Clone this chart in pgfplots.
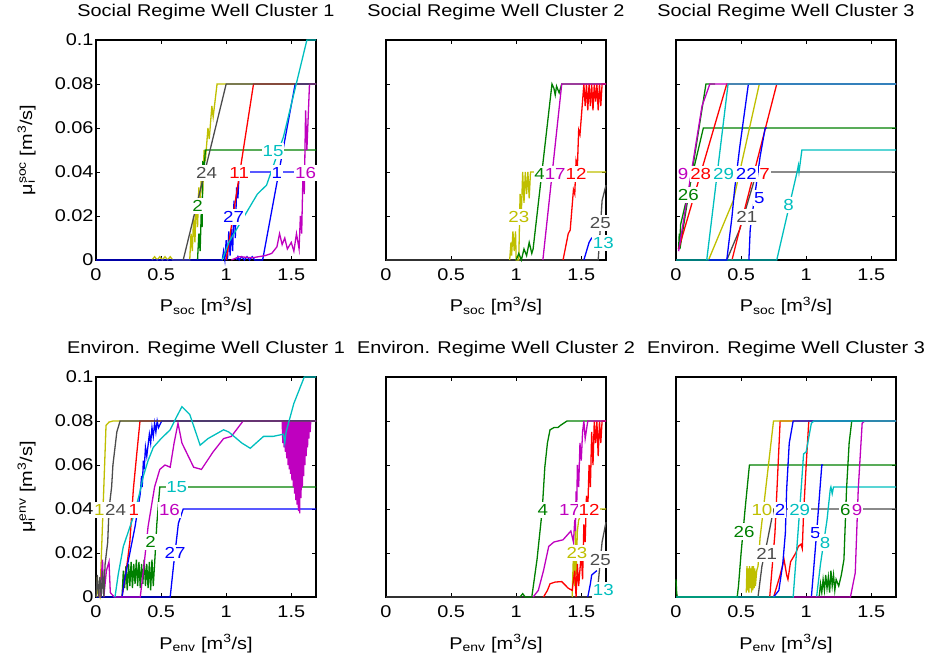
\documentclass[border=0pt]{standalone}
\usepackage{fontspec}
\setmainfont{Liberation Sans}[FakeStretch=1.17]
\usepackage{pgfplots}
\pgfplotsset{compat=1.18}
\definecolor{mb}{rgb}{0,0,1}
\definecolor{mg}{rgb}{0,0.5,0}
\definecolor{mr}{rgb}{1,0,0}
\definecolor{mc}{rgb}{0,0.75,0.75}
\definecolor{mm}{rgb}{0.75,0,0.75}
\definecolor{my}{rgb}{0.75,0.75,0}
\definecolor{mk}{rgb}{0.3,0.3,0.3}
\newcommand{\fs}{\fontsize{17}{20}\selectfont}
\tikzset{lab/.style={fill=white, inner xsep=0.8pt, inner ysep=2.5pt, font=\fontsize{16}{19}\selectfont}}
\pgfplotsset{
  panel/.style={
    scale only axis, width=220pt, height=220pt,
    anchor=south west,
    xmin=0, xmax=1.69, ymin=0, ymax=0.1,
    xtick={0,0.5,1,1.5}, xticklabels={0,0.5,1,1.5},
    ytick={0,0.02,0.04,0.06,0.08,0.1},
    yticklabels={},
    axis line style={line width=1.6pt},
    major tick length=4pt,
    tick style={line width=0.7pt, black},
    tick align=inside,
    clip=false,
    font=\fs,
    /pgf/number format/assume math mode=true,
    title style={at={(0.5,1)}, anchor=base, yshift=17pt, font=\fs},
    xlabel style={at={(0.5,0)}, anchor=base, yshift=-52pt, font=\fs},
    ylabel style={at={(axis description cs:-0.29,0.5)}, anchor=base, font=\fs},
    xticklabel style={yshift=-5pt},
    yticklabel style={xshift=1pt},
    every axis plot/.append style={line width=1.3pt, no markers},
  },
  first/.style={yticklabels={0,0.02,0.04,0.06,0.08,0.1}},
}
\begin{document}
\begin{tikzpicture}
%%%%%%%%%%%%%%%% Social cluster 1
\begin{axis}[panel, first, at={(96pt,404pt)},
  title={Social Regime Well Cluster 1},
  xlabel={P\textsubscript{soc} [m\textsuperscript{3}/s]},
  ylabel={μ\rlap{\textsubscript{i}}\textsuperscript{soc} [m\textsuperscript{3}/s]}]
\addplot[my] coordinates {(0.43,0)(0.45,0.0015)(0.47,0)(0.49,0.0015)(0.51,0)(0.53,0.0015)(0.55,0)(0.57,0.0015)(0.59,0)(0.72,0)(0.73,0.012)(0.74,0.004)(0.75,0.02)(0.76,0.008)(0.77,0.028)(0.78,0.015)(0.79,0.033)(0.8,0.025)(0.81,0.04)(0.82,0.03)(0.83,0.05)(0.84,0.045)(0.86,0.06)(0.87,0.055)(0.89,0.07)(0.9,0.065)(0.93,0.08)(1.69,0.08)};
\addplot[mg] coordinates {(0.78,0)(0.79,0.012)(0.8,0.004)(0.81,0.025)(0.815,0.015)(0.82,0.045)(0.83,0.04)(0.84,0.05)(1.69,0.05)};
\addplot[mb] coordinates {(0,0)(0.97,0)(0.98,0.004)(0.99,0)(1.0,0.009)(1.01,0)(1.02,0.013)(1.03,0.002)(1.04,0.014)(1.05,0.004)(1.06,0.027)(1.07,0.01)(1.08,0.033)(1.09,0.028)(1.1,0.04)(1.69,0.04)};
\addplot[mr] coordinates {(1.0,0)(1.21,0.08)(1.69,0.08)};
\addplot[mb] coordinates {(1.08,0)(1.09,0.0015)(1.1,0)(1.12,0.0015)(1.14,0)(1.16,0.0015)(1.18,0)(1.2,0.0015)(1.22,0)(1.28,0)(1.53,0.08)(1.69,0.08)};
\addplot[mm] coordinates {(1.04,0)(1.1,0.0015)(1.2,0.001)(1.3,0.002)(1.35,0.003)(1.39,0.006)(1.41,0.012)(1.43,0.007)(1.45,0.01)(1.47,0.005)(1.5,0.008)(1.52,0.004)(1.54,0.012)(1.56,0.005)(1.57,0.02)(1.58,0.012)(1.59,0.04)(1.6,0.03)(1.61,0.068)(1.62,0.05)(1.64,0.08)(1.69,0.08)};
\addplot[mk] coordinates {(0.67,0)(1.0,0.08)(1.69,0.08)};
\addplot[mc] coordinates {(0.97,0)(1.02,0.008)(1.08,0.014)(1.16,0.022)(1.24,0.03)(1.31,0.034)(1.44,0.056)(1.62,0.1)(1.69,0.1)};
\node[lab,text=mk] at (axis cs:0.85,0.0394) {24};
\node[lab,text=mr] at (axis cs:1.10,0.0394) {11};
\node[lab,text=mb] at (axis cs:1.39,0.0394) {1};
\node[lab,text=mm] at (axis cs:1.61,0.0394) {16};
\node[lab,text=mc] at (axis cs:1.36,0.0497) {15};
\node[lab,text=mg] at (axis cs:0.78,0.0245) {2};
\node[lab,text=mb] at (axis cs:1.057,0.0197) {27};
\end{axis}
%%%%%%%%%%%%%%%% Social cluster 2
\begin{axis}[panel, at={(386pt,404pt)},
  title={Social Regime Well Cluster 2},
  xlabel={P\textsubscript{soc} [m\textsuperscript{3}/s]}]
\addplot[mk] coordinates {(0,0)(1.63,0)(1.66,0.027)(1.69,0.034)};
\addplot[my] coordinates {(0.95,0)(0.96,0.008)(0.965,0.002)(0.975,0.013)(0.985,0.004)(0.995,0.013)(1.0,0)(1.02,0)(1.03,0.03)(1.04,0.022)(1.05,0.04)(1.06,0.026)(1.07,0.04)(1.08,0.03)(1.09,0.04)(1.1,0.028)(1.11,0.04)(1.69,0.04)};
\addplot[mg] coordinates {(1.0,0)(1.02,0.003)(1.04,0)(1.06,0.005)(1.08,0.002)(1.1,0.008)(1.12,0.003)(1.13,0.005)(1.275,0.08)(1.29,0.078)(1.3,0.075)(1.31,0.079)(1.33,0.076)(1.35,0.08)(1.69,0.08)};
\addplot[mr] coordinates {(1.36,0)(1.38,0.006)(1.4,0.012)(1.415,0.0136)(1.44,0.032)(1.45,0.03)(1.46,0.045)(1.47,0.042)(1.48,0.059)(1.49,0.057)(1.52,0.08)(1.53,0.07)(1.54,0.08)(1.55,0.068)(1.56,0.08)(1.57,0.07)(1.58,0.08)(1.59,0.068)(1.6,0.08)(1.61,0.072)(1.62,0.08)(1.63,0.068)(1.64,0.08)(1.65,0.07)(1.66,0.08)(1.69,0.08)};
\addplot[mm] coordinates {(1.205,0)(1.35,0.08)(1.69,0.08)};
\addplot[mb] coordinates {(1.52,0)(1.56,0.008)(1.58,0.01)(1.62,0.01)};
\node[lab,text=mg] at (axis cs:1.18,0.039) {4};
\node[lab,text=mm] at (axis cs:1.30,0.039) {17};
\node[lab,text=mr] at (axis cs:1.46,0.039) {12};
\node[lab,text=my] at (axis cs:1.02,0.0194) {23};
\node[lab,text=mk] at (axis cs:1.646,0.0167) {25};
\node[lab,text=mc] at (axis cs:1.67,0.0076) {13};
\end{axis}
%%%%%%%%%%%%%%%% Social cluster 3
\begin{axis}[panel, at={(676pt,404pt)},
  title={Social Regime Well Cluster 3},
  xlabel={P\textsubscript{soc} [m\textsuperscript{3}/s]}]
\addplot[mk] coordinates {(0.39,0)(0.49,0.014)(0.62,0.04)(1.69,0.04)};
\addplot[mg] coordinates {(0.02,0.005)(0.025,0.012)(0.03,0.008)(0.035,0.016)(0.21,0.06)(1.69,0.06)};
\addplot[mg] coordinates {(0.03,0.005)(0.23,0.08)(0.3,0.08)};
\addplot[mr] coordinates {(0.02,0.005)(0.39,0.08)(1.69,0.08)};
\addplot[mr] coordinates {(0.43,0)(0.54,0.026)(0.774,0.08)(1.69,0.08)};
\addplot[my] coordinates {(0.25,0)(0.44,0.027)(0.64,0.08)(1.69,0.08)};
\addplot[mc] coordinates {(0,0)(0.774,0)(0.93,0.04)(0.94,0.043)(0.945,0.04)(0.967,0.05)(1.69,0.05)};
\addplot[mb] coordinates {(0.56,0)(0.57,0.014)(0.646,0.047)(0.685,0.06)(0.7,0.06)};
\addplot[mb] coordinates {(0.25,0)(0.39,0)(0.43,0.0197)(0.45,0.032)(0.49,0.0515)(0.556,0.08)(1.69,0.08)};
\addplot[mm] coordinates {(0.02,0.004)(0.2,0.07)(0.26,0.08)(1.69,0.08)};
\addplot[mc] coordinates {(0.236,0)(0.40,0.08)(1.69,0.08)};
\node[lab,text=mm] at (axis cs:0.055,0.039) {9};
\node[lab,text=mr] at (axis cs:0.19,0.039) {28};
\node[lab,text=mc] at (axis cs:0.365,0.039) {29};
\node[lab,text=mb] at (axis cs:0.54,0.039) {22};
\node[lab,text=mr] at (axis cs:0.68,0.039) {7};
\node[lab,text=mg] at (axis cs:0.095,0.0295) {26};
\node[lab,text=mb] at (axis cs:0.64,0.028) {5};
\node[lab,text=mk] at (axis cs:0.544,0.0197) {21};
\node[lab,text=mc] at (axis cs:0.864,0.025) {8};
\end{axis}
%%%%%%%%%%%%%%%% Environ cluster 1
\begin{axis}[panel, first, at={(96pt,67pt)},
  title={Environ. Regime Well Cluster 1},
  xlabel={P\textsubscript{env} [m\textsuperscript{3}/s]},
  ylabel={μ\rlap{\textsubscript{i}}\textsuperscript{env} [m\textsuperscript{3}/s]}]
\addplot[mb] coordinates {(0,0)(0.57,0)(0.595,0.014)(0.633,0.0335)(0.67,0.04)(1.69,0.04)};
\addplot[mg] coordinates {(0.2,0)(0.21,0.012)(0.22,0.004)(0.23,0.014)(0.24,0.003)(0.25,0.015)(0.26,0.005)(0.27,0.016)(0.28,0.004)(0.29,0.015)(0.3,0.006)(0.31,0.017)(0.32,0.005)(0.33,0.016)(0.34,0.004)(0.35,0.015)(0.36,0.006)(0.37,0.017)(0.38,0.005)(0.39,0.015)(0.4,0.004)(0.41,0.016)(0.42,0.003)(0.43,0.017)(0.44,0.005)(0.454,0.019)(0.467,0.033)(0.49,0.05)(1.69,0.05)};
\addplot[my] coordinates {(0.005,0)(0.01,0.009)(0.015,0.002)(0.03,0.0)(0.077,0.078)(0.1,0.0795)(0.13,0.08)(1.69,0.08)};
\addplot[mr] coordinates {(0.2,0)(0.236,0.0138)(0.26,0.025)(0.287,0.049)(0.313,0.065)(0.338,0.08)(1.69,0.08)};
\addplot[mb] coordinates {(0.2,0)(0.22,0.008)(0.25,0.017)(0.3,0.032)(0.34,0.047)(0.35,0.055)(0.355,0.05)(0.364,0.062)(0.37,0.058)(0.38,0.068)(0.39,0.064)(0.41,0.074)(0.42,0.07)(0.43,0.077)(0.44,0.073)(0.45,0.079)(0.46,0.075)(0.47,0.08)(0.48,0.077)(0.505,0.08)(1.69,0.08)};
\addplot[mm] coordinates {(0.03,0)(0.05,0.017)(0.06,0)(0.08,0.012)(0.1,0.016)(0.11,0.002)(0.14,0)(0.34,0)(0.37,0.015)(0.4,0.032)(0.45,0.05)(0.49,0.058)(0.53,0.06)(0.57,0.059)(0.6,0.07)(0.63,0.079)(0.66,0.07)(0.75,0.059)(0.81,0.058)(0.9,0.066)(0.98,0.072)(1.04,0.073)(1.13,0.08)(1.43,0.08)(1.435,0.07)(1.44,0.08)(1.445,0.068)(1.45,0.08)(1.455,0.066)(1.46,0.08)(1.465,0.063)(1.47,0.08)(1.475,0.06)(1.48,0.08)(1.485,0.058)(1.49,0.08)(1.495,0.056)(1.5,0.08)(1.505,0.053)(1.51,0.08)(1.515,0.05)(1.52,0.08)(1.525,0.047)(1.53,0.08)(1.535,0.044)(1.54,0.08)(1.545,0.042)(1.55,0.08)(1.555,0.039)(1.56,0.08)(1.565,0.038)(1.57,0.08)(1.575,0.045)(1.58,0.08)(1.585,0.05)(1.59,0.08)(1.595,0.055)(1.6,0.08)(1.605,0.06)(1.61,0.08)(1.615,0.064)(1.62,0.08)(1.625,0.068)(1.63,0.08)(1.635,0.072)(1.64,0.08)(1.645,0.075)(1.65,0.08)(1.69,0.08)};
\addplot[mk] coordinates {(0,0)(0.01,0.01)(0.02,0)(0.03,0.009)(0.04,0)(0.05,0.012)(0.06,0)(0.07,0.015)(0.09,0.025)(0.1,0.04)(0.12,0.05)(0.13,0.06)(0.14,0.065)(0.16,0.075)(0.185,0.08)(1.69,0.08)};
\addplot[mc] coordinates {(0.146,0)(0.17,0.01)(0.21,0.023)(0.25,0.03)(0.287,0.0365)(0.33,0.046)(0.364,0.055)(0.4,0.062)(0.44,0.068)(0.5,0.072)(0.57,0.076)(0.62,0.082)(0.66,0.0865)(0.72,0.083)(0.76,0.076)(0.8,0.069)(0.86,0.072)(0.92,0.074)(0.98,0.076)(1.02,0.075)(1.06,0.073)(1.12,0.07)(1.185,0.0676)(1.23,0.07)(1.287,0.073)(1.36,0.073)(1.44,0.074)(1.45,0.07)(1.46,0.075)(1.52,0.088)(1.6,0.1)(1.69,0.1)};
\node[lab,text=my] at (axis cs:0.025,0.0395) {1};
\node[lab,text=mk] at (axis cs:0.15,0.0395) {24};
\node[lab,text=mr] at (axis cs:0.29,0.0395) {1};
\node[lab,text=mm] at (axis cs:0.564,0.0395) {16};
\node[lab,text=mc] at (axis cs:0.62,0.0498) {15};
\node[lab,text=mg] at (axis cs:0.42,0.025) {2};
\node[lab,text=mb] at (axis cs:0.608,0.02) {27};
\end{axis}
%%%%%%%%%%%%%%%% Environ cluster 2
\begin{axis}[panel, at={(386pt,67pt)},
  title={Environ. Regime Well Cluster 2},
  xlabel={P\textsubscript{env} [m\textsuperscript{3}/s]}]
\addplot[mk] coordinates {(0,0)(1.62,0)(1.66,0.025)(1.69,0.034)};
\addplot[my] coordinates {(1.43,0)(1.44,0.02)(1.45,0.005)(1.455,0.033)(1.46,0.01)(1.47,0.03)(1.48,0.035)(1.52,0.04)(1.69,0.04)};
\addplot[mg] coordinates {(1.03,0)(1.05,0.0015)(1.07,0)(1.12,0)(1.16,0.017)(1.2,0.0395)(1.22,0.059)(1.24,0.07)(1.26,0.076)(1.29,0.077)(1.32,0.077)(1.34,0.078)(1.39,0.08)(1.69,0.08)};
\addplot[mr] coordinates {(1.21,0)(1.24,0.003)(1.26,0.006)(1.3,0.0068)(1.35,0.007)(1.4,0.004)(1.43,0.003)(1.45,0.012)(1.46,0.0)(1.47,0.015)(1.48,0.005)(1.5,0.02)(1.51,0.008)(1.52,0.033)(1.53,0.025)(1.54,0.046)(1.55,0.04)(1.56,0.06)(1.57,0.05)(1.58,0.075)(1.59,0.06)(1.6,0.08)(1.61,0.07)(1.62,0.08)(1.63,0.064)(1.64,0.08)(1.65,0.07)(1.66,0.08)(1.69,0.08)};
\addplot[mm] coordinates {(1.13,0)(1.17,0.003)(1.21,0.012)(1.25,0.023)(1.29,0.025)(1.36,0.026)(1.42,0.03)(1.44,0.025)(1.45,0.035)(1.455,0.03)(1.46,0.048)(1.465,0.04)(1.47,0.06)(1.48,0.05)(1.49,0.07)(1.5,0.062)(1.51,0.075)(1.52,0.08)(1.53,0.072)(1.55,0.08)(1.69,0.08)};
\addplot[mb] coordinates {(1.55,0)(1.57,0.006)(1.58,0.01)(1.62,0.012)};
\node[lab,text=mg] at (axis cs:1.205,0.0395) {4};
\node[lab,text=mm] at (axis cs:1.41,0.0395) {17};
\node[lab,text=mr] at (axis cs:1.56,0.0395) {12};
\node[lab,text=my] at (axis cs:1.467,0.02) {23};
\node[lab,text=mk] at (axis cs:1.646,0.017) {25};
\node[lab,text=mc] at (axis cs:1.67,0.003) {13};
\end{axis}
%%%%%%%%%%%%%%%% Environ cluster 3
\begin{axis}[panel, at={(676pt,67pt)},
  title={Environ. Regime Well Cluster 3},
  xlabel={P\textsubscript{env} [m\textsuperscript{3}/s]}]
\addplot[mg] coordinates {(0,0.008)(0.005,0.002)(0.01,0)(0.47,0)(0.48,0.005)(0.5,0.02)(0.53,0.0395)(0.564,0.06)(1.69,0.06)};
\addplot[mk] coordinates {(0.63,0)(0.66,0.014)(0.7,0.025)(0.75,0.04)(1.69,0.04)};
\addplot[mr] coordinates {(0.72,0)(0.76,0.029)(0.8,0.08)(1.69,0.08)};
\addplot[mr] coordinates {(0.75,0)(0.8,0.01)(0.83,0.017)(0.85,0.01)(0.86,0.008)(0.88,0.016)(0.9,0.018)(0.92,0.02)(0.94,0.023)(0.96,0.024)(0.97,0.022)(0.98,0.038)(1.0,0.06)(1.02,0.08)(1.69,0.08)};
\addplot[my] coordinates {(0.54,0.002)(0.545,0.014)(0.55,0.003)(0.555,0.013)(0.56,0.002)(0.565,0.014)(0.57,0.004)(0.575,0.013)(0.58,0.002)(0.585,0.014)(0.59,0.003)(0.595,0.014)(0.6,0.004)(0.605,0.013)(0.61,0.005)(0.62,0.012)(0.63,0.014)(0.646,0.027)(0.749,0.08)(1.69,0.08)};
\addplot[mb] coordinates {(0.75,0)(0.79,0.003)(0.82,0.015)(0.84,0.029)(0.85,0.049)(0.87,0.07)(0.9,0.08)(1.69,0.08)};
\addplot[mb] coordinates {(1.04,0)(1.08,0.029)(1.12,0.06)(1.13,0.06)};
\addplot[mc] coordinates {(1.08,0)(1.11,0.015)(1.16,0.035)(1.185,0.049)(1.19,0.05)(1.2,0.047)(1.21,0.05)(1.69,0.05)};
\addplot[mg] coordinates {(1.1,0)(1.11,0.006)(1.12,0.002)(1.13,0.008)(1.14,0.003)(1.15,0.01)(1.16,0.004)(1.17,0.009)(1.18,0.002)(1.19,0.012)(1.2,0.005)(1.21,0.01)(1.22,0.003)(1.23,0.008)(1.25,0.005)(1.27,0.01)(1.29,0.017)(1.31,0.049)(1.33,0.07)(1.35,0.08)(1.69,0.08)};
\addplot[mm] coordinates {(0.9,0)(1.34,0)(1.377,0.011)(1.4,0.049)(1.43,0.079)(1.45,0.08)(1.69,0.08)};
\addplot[mc] coordinates {(0,0)(0.9,0)(0.95,0.0395)(0.98,0.065)(1.0,0.066)(1.04,0.079)(1.06,0.08)(1.69,0.08)};
\node[lab,text=mg] at (axis cs:0.523,0.0297) {26};
\node[lab,text=my] at (axis cs:0.66,0.0395) {10};
\node[lab,text=mb] at (axis cs:0.8,0.0395) {2};
\node[lab,text=mc] at (axis cs:0.95,0.0395) {29};
\node[lab,text=mk] at (axis cs:0.697,0.0198) {21};
\node[lab,text=mb] at (axis cs:1.07,0.029) {5};
\node[lab,text=mc] at (axis cs:1.146,0.0247) {8};
\node[lab,text=mg] at (axis cs:1.3,0.0395) {6};
\node[lab,text=mm] at (axis cs:1.39,0.0395) {9};
\end{axis}
\pgfresetboundingbox
\path (0,0) rectangle (934pt,664pt);
\end{tikzpicture}
\end{document}
